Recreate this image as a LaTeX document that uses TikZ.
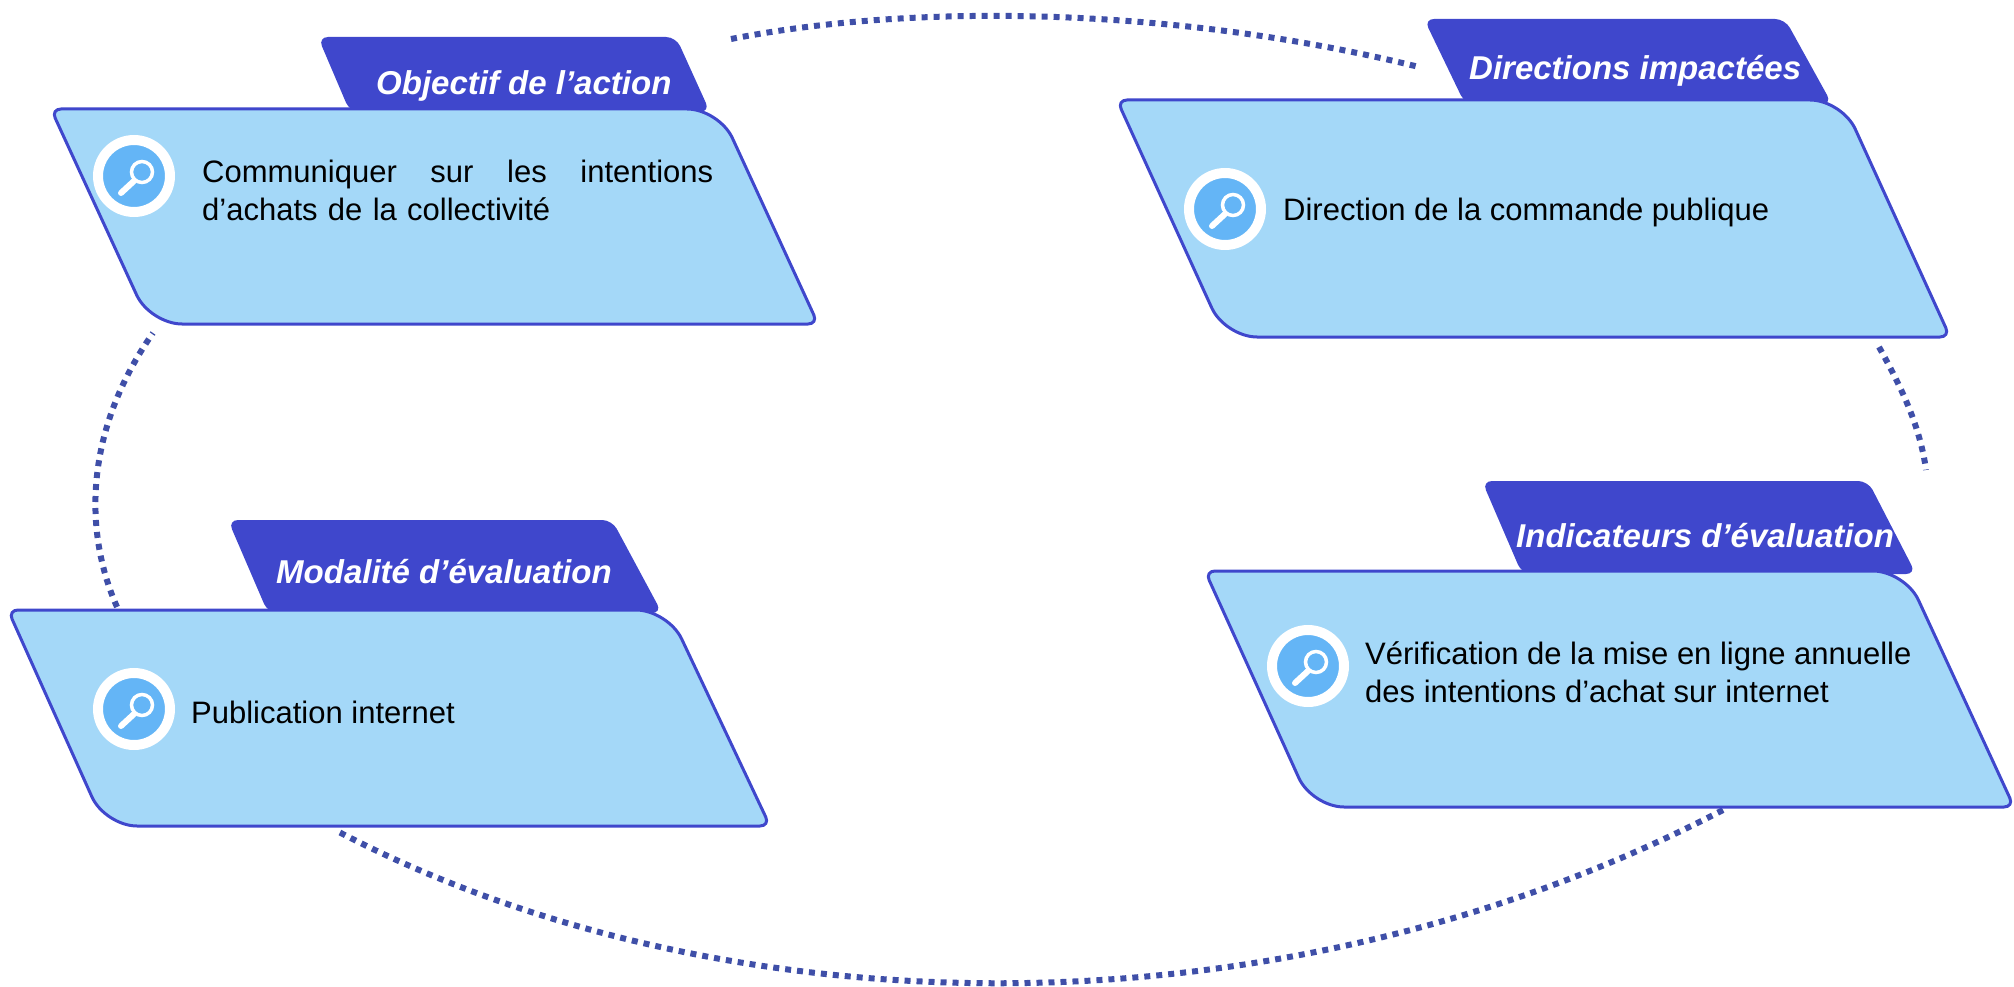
\documentclass[tikz,border=0pt]{standalone}
\usepackage{fontspec}
\setmainfont{Liberation Sans}
\definecolor{panelfill}{HTML}{A4D8F8}
\definecolor{paneledge}{HTML}{3F47CC}
\definecolor{iconblue}{HTML}{64B5F6}
\definecolor{linkblue}{HTML}{3F4FA8}
\tikzset{
  panel/.style={draw=paneledge,fill=panelfill,line width=3pt},
  tabbox/.style={fill=paneledge},
  tabtitle/.style={anchor=base west,inner sep=0pt,text=white,font=\fontsize{33}{38}\selectfont\bfseries\itshape},
  bodytext/.style={anchor=west,inner sep=0pt,align=left,font=\fontsize{31}{38}\selectfont},
  ringicon/.style={circle,fill=iconblue,draw=white,line width=10pt,minimum size=72pt,inner sep=0pt},
  link/.style={draw=linkblue,line width=6pt,dash pattern=on 6pt off 6pt},
  loupe/.pic={
    \draw[white,line width=3.5pt] (8,-4) circle (10.5);
    \draw[white,line width=6pt,line cap=round] (0,5) -- (-13,17);
  }
}
\begin{document}
\begin{tikzpicture}[x=1pt,y=-1pt]
  \clip (0,0) rectangle (2014,987);
  % end points of the links
  \coordinate (top1) at (731,39);
  \coordinate (top2) at (1419,67);
  \coordinate (right1) at (1879,347);
  \coordinate (right2) at (1926,470);
  \coordinate (bottom1) at (1723,810);
  \coordinate (bottom2) at (337,831);
  \coordinate (left1) at (117,607);
  \coordinate (left2) at (153,333);
  \draw[link] (top1) .. controls (920,2) and (1180,8) .. (top2);
  \draw[link] (right1) .. controls (1900,385) and (1920,425) .. (right2);
  \draw[link] (bottom1) .. controls (1270,1045) and (717,1030) .. (bottom2);
  \draw[link] (left1) .. controls (83,530) and (85,430) .. (left2);
  % objectif
  \fill[tabbox,rounded corners=10] (318,37) -- (676,37) -- (710,112) -- (350,112) -- cycle;
  \draw[panel] [rounded corners=10] (51,109) [rounded corners=32] -- (719,109) [rounded corners=10] -- (818,324) [rounded corners=32] -- (150,324) [rounded corners=10] -- cycle;
  \node[tabtitle] (objtitle) at (376,95) {Objectif de l'action};
  \node[ringicon] (objicon) at (134,176) {};
  \pic at (objicon) {loupe};
  \node[bodytext,text width=511pt] (objtext) at (202,190) {Communiquer\hfill sur\hfill les\hfill intentions\\d’achats de la collectivité};
  % directions
  \fill[tabbox,rounded corners=10] (1424,19) -- (1785,19) -- (1832,104) -- (1465,104) -- cycle;
  \draw[panel] [rounded corners=10] (1117,100) [rounded corners=32] -- (1842,100) [rounded corners=10] -- (1950,337) [rounded corners=32] -- (1225,337) [rounded corners=10] -- cycle;
  \node[tabtitle] (dirtitle) at (1469,80) {Directions impactées};
  \node[ringicon] (diricon) at (1225,209) {};
  \pic at (diricon) {loupe};
  \node[bodytext] (dirtext) at (1283,212) {Direction de la commande publique};
  % indicateurs
  \fill[tabbox,rounded corners=10] (1482,481) -- (1868,481) -- (1916,574) -- (1522,574) -- cycle;
  \draw[panel] [rounded corners=10] (1205,571) [rounded corners=32] -- (1905,571) [rounded corners=10] -- (2014,807) [rounded corners=32] -- (1312,807) [rounded corners=10] -- cycle;
  \node[tabtitle] (indtitle) at (1516,547) {Indicateurs d'évaluation};
  \node[ringicon] (indicon) at (1308,666) {};
  \pic at (indicon) {loupe};
  \node[bodytext] (indtext) at (1365,672) {Vérification de la mise en ligne annuelle\\des intentions d’achat sur internet};
  % modalite
  \fill[tabbox,rounded corners=10] (228,520) -- (612,520) -- (662,613) -- (268,613) -- cycle;
  \draw[panel] [rounded corners=10] (8,610) [rounded corners=32] -- (668,610) [rounded corners=10] -- (770,826) [rounded corners=32] -- (105,826) [rounded corners=10] -- cycle;
  \node[tabtitle] (modtitle) at (276,583) {Modalité d'évaluation};
  \node[ringicon] (modicon) at (134,709) {};
  \pic at (modicon) {loupe};
  \node[bodytext] (modtext) at (191,712) {Publication internet};
\end{tikzpicture}
\end{document}
